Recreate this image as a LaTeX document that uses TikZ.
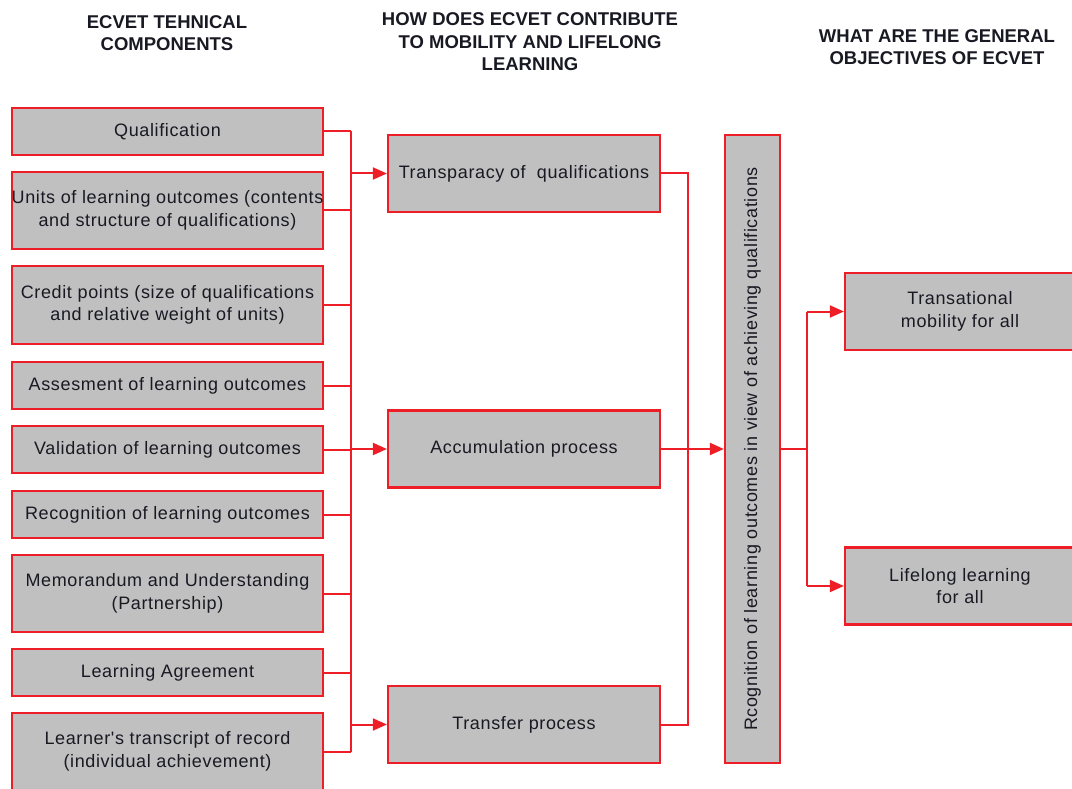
\documentclass[tikz,border=0pt]{standalone}
\usepackage{fontspec}
\setmainfont{Liberation Sans}
\newfontfamily\boxfont[LetterSpace=3.5]{Liberation Sans}
\newfontfamily\hdrfont{Liberation Sans}
\usetikzlibrary{arrows.meta}
\definecolor{boxred}{RGB}{238,30,38}
\definecolor{boxgray}{RGB}{192,192,192}
\definecolor{txt}{RGB}{25,25,35}
\tikzset{
  compbox/.style={draw=boxred, line width=2.2pt, fill=boxgray, text=txt,
    minimum width=311pt, inner sep=0pt, align=center,
    font=\boxfont\fontsize{18}{22.5}\selectfont},
  midbox/.style={compbox, minimum width=272pt, minimum height=77pt},
  objbox/.style={compbox, minimum width=230pt, minimum height=77pt},
  tallbox/.style={compbox, minimum width=628pt, minimum height=55pt, rotate=90},
  hdr/.style={align=center, text=txt, inner sep=0pt,
    font=\hdrfont\bfseries\fontsize{18.5}{22.5}\selectfont},
  conn/.style={draw=boxred, line width=2pt},
  arr/.style={conn, -{Triangle[length=14pt,width=12pt]}},
}
\begin{document}
\begin{tikzpicture}[x=1pt,y=-1pt]
\useasboundingbox (0,0) rectangle (1072,789);
\begin{scope}
\clip (0,0) rectangle (1072,789);
% headers
\node[hdr] (h1) at (167,33) {ECVET TEHNICAL\\COMPONENTS};
\node[hdr] (h2) at (530,42) {HOW DOES ECVET CONTRIBUTE\\TO MOBILITY AND LIFELONG\\LEARNING};
\node[hdr] (h3) at (937,47) {WHAT ARE THE GENERAL\\OBJECTIVES OF ECVET};
% left components
\node[compbox, minimum height=47pt] (c1) at (167.5,131.5) {Qualification};
\node[compbox, minimum height=77pt] (c2) at (167.5,210.5) {Units of learning outcomes (contents\\and structure of qualifications)};
\node[compbox, minimum height=78pt] (c3) at (167.5,305) {Credit points (size of qualifications\\and relative weight of units)};
\node[compbox, minimum height=47pt] (c4) at (167.5,385.5) {Assesment of learning outcomes};
\node[compbox, minimum height=47pt] (c5) at (167.5,449.5) {Validation of learning outcomes};
\node[compbox, minimum height=47pt] (c6) at (167.5,514.5) {Recognition of learning outcomes};
\node[compbox, minimum height=77pt] (c7) at (167.5,593.5) {Memorandum and Understanding\\(Partnership)};
\node[compbox, minimum height=47pt] (c8) at (167.5,672.5) {Learning Agreement};
\node[compbox, minimum height=77pt] (c9) at (167.5,751.5) {Learner's transcript of record\\(individual achievement)};
% middle
\node[midbox] (m1) at (524,173.5) {Transparacy of\ \ qualifications};
\node[midbox] (m2) at (524,449) {Accumulation process};
\node[midbox] (m3) at (524,724.5) {Transfer process};
% tall
\node[tallbox] (r) at (752.5,449) {Rcognition of learning outcomes in view of achieving qualifications};
% objectives
\node[objbox] (o1) at (960,311.5) {Transational\\mobility for all};
\node[objbox] (o2) at (960,586) {Lifelong learning\\for all};
% bus coordinates
\coordinate (bus) at (351,0);
\coordinate (rbus) at (688,0);
\coordinate (obus) at (807,0);
% left connectors
\foreach \n in {c1,c2,c3,c4,c5,c6,c7,c8,c9}
  \draw[conn] (\n.east) -- (\n.east -| bus);
\draw[conn] (c1.east -| bus) -- (c9.east -| bus);
\draw[arr] (m1.west -| bus) -- (m1.west);
\draw[arr] (m2.west -| bus) -- (m2.west);
\draw[arr] (m3.west -| bus) -- (m3.west);
% middle to tall
\draw[conn] (m1.east) -- (m1.east -| rbus) -- (m3.east -| rbus) -- (m3.east);
\draw[arr] (m2.east) -- (m2.east -| r.north);
% tall to objectives
\draw[conn] (r.south |- m2.east) -- (m2.east -| obus);
\draw[conn] (o1.west -| obus) -- (o2.west -| obus);
\draw[arr] (o1.west -| obus) -- (o1.west);
\draw[arr] (o2.west -| obus) -- (o2.west);
\end{scope}
\end{tikzpicture}
\end{document}
